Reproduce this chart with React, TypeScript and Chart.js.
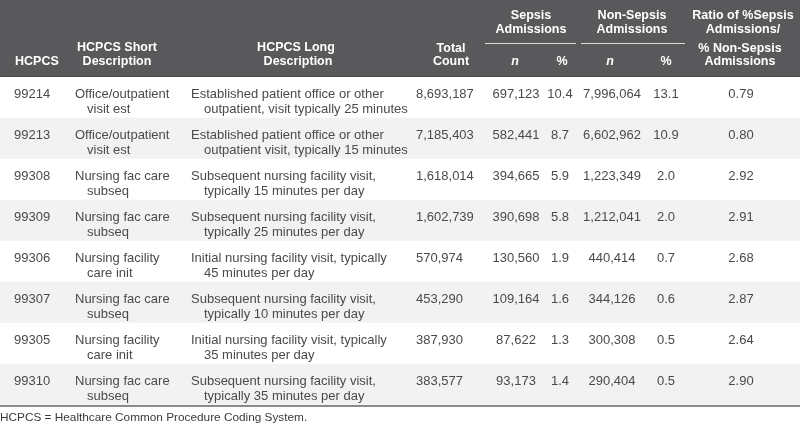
import React, { useEffect, useRef } from "react";
import { Chart, registerables } from "chart.js";

Chart.register(...registerables);

const hcpcsCodes = ["99214", "99213", "99308", "99309", "99306", "99307", "99305", "99310"];
const shortDescriptions: string[][] = [
  ["Office/outpatient", "visit est"],
  ["Office/outpatient", "visit est"],
  ["Nursing fac care", "subseq"],
  ["Nursing fac care", "subseq"],
  ["Nursing facility", "care init"],
  ["Nursing fac care", "subseq"],
  ["Nursing facility", "care init"],
  ["Nursing fac care", "subseq"],
];
const longDescriptions: string[][] = [
  ["Established patient office or other", "outpatient, visit typically 25 minutes"],
  ["Established patient office or other", "outpatient visit, typically 15 minutes"],
  ["Subsequent nursing facility visit,", "typically 15 minutes per day"],
  ["Subsequent nursing facility visit,", "typically 25 minutes per day"],
  ["Initial nursing facility visit, typically", "45 minutes per day"],
  ["Subsequent nursing facility visit,", "typically 10 minutes per day"],
  ["Initial nursing facility visit, typically", "35 minutes per day"],
  ["Subsequent nursing facility visit,", "typically 35 minutes per day"],
];
const totalCounts = [8693187, 7185403, 1618014, 1602739, 570974, 453290, 387930, 383577];
const sepsisN = [697123, 582441, 394665, 390698, 130560, 109164, 87622, 93173];
const sepsisPct = [10.4, 8.7, 5.9, 5.8, 1.9, 1.6, 1.3, 1.4];
const nonSepsisN = [7996064, 6602962, 1223349, 1212041, 440414, 344126, 300308, 290404];
const nonSepsisPct = [13.1, 10.9, 2.0, 2.0, 0.7, 0.6, 0.5, 0.5];
const ratios = [0.79, 0.8, 2.92, 2.91, 2.68, 2.87, 2.64, 2.9];
const footnote = "HCPCS = Healthcare Common Procedure Coding System.";

const FONT = '"Liberation Sans", Arial, Helvetica, sans-serif';
const fmt = (v: number) => v.toLocaleString("en-US");

export default function App() {
  const ref = useRef<HTMLCanvasElement | null>(null);

  useEffect(() => {
    document.body.style.margin = "0";
    const canvas = ref.current;
    if (!canvas) return;

    const tablePlugin = {
      id: "tablePlugin",
      afterDatasetsDraw(chart: any) {
        const ctx: CanvasRenderingContext2D = chart.ctx;
        const xs = chart.scales.x;
        const ys = chart.scales.y;
        const X = (v: number) => xs.getPixelForValue(v);
        const W = chart.width;
        ctx.save();

        // header background
        ctx.fillStyle = "#59595b";
        ctx.fillRect(0, 0, W, chart.chartArea.top);
        ctx.fillStyle = "#4a4a4c";
        ctx.fillRect(0, chart.chartArea.top - 1, W, 1);

        const hText = (t: string, x: number, y: number, align: CanvasTextAlign, italic = false) => {
          ctx.font = `${italic ? "italic " : ""}bold 12.5px ${FONT}`;
          ctx.fillStyle = "#ffffff";
          ctx.textAlign = align;
          ctx.textBaseline = "middle";
          ctx.fillText(t, x, y);
        };
        hText("HCPCS", X(15), 62, "left");
        hText("HCPCS Short", X(117), 48, "center");
        hText("Description", X(117), 62, "center");
        hText("HCPCS Long", X(296), 48, "center");
        hText("Description", X(298), 62, "center");
        hText("Total", X(451), 49, "center");
        hText("Count", X(451), 62, "center");
        hText("Sepsis", X(531), 16, "center");
        hText("Admissions", X(531), 30, "center");
        hText("Non-Sepsis", X(632), 16, "center");
        hText("Admissions", X(632), 30, "center");
        hText("n", X(515), 62, "center", true);
        hText("%", X(562), 62, "center");
        hText("n", X(610), 62, "center", true);
        hText("%", X(666), 62, "center");
        hText("Ratio of %Sepsis", X(743), 16, "center");
        hText("Admissions/", X(743), 30, "center");
        hText("% Non-Sepsis", X(740), 49, "center");
        hText("Admissions", X(740), 62, "center");

        ctx.strokeStyle = "#d8d8d8";
        ctx.lineWidth = 1;
        ctx.beginPath();
        ctx.moveTo(X(485), 43.5);
        ctx.lineTo(X(576), 43.5);
        ctx.moveTo(X(581), 43.5);
        ctx.lineTo(X(685), 43.5);
        ctx.stroke();

        // body cells
        ctx.fillStyle = "#4a4a4a";
        ctx.font = `13px ${FONT}`;
        ctx.textBaseline = "middle";
        hcpcsCodes.forEach((code, i) => {
          const cy = ys.getPixelForValue(i);
          const y1 = cy - 3;
          const y2 = cy + 12;
          ctx.textAlign = "left";
          ctx.fillText(code, X(14), y1);
          ctx.fillText(shortDescriptions[i][0], X(75), y1);
          ctx.fillText(shortDescriptions[i][1], X(87), y2);
          ctx.fillText(longDescriptions[i][0], X(191), y1);
          ctx.fillText(longDescriptions[i][1], X(204), y2);
          ctx.fillText(fmt(totalCounts[i]), X(416), y1);
          ctx.textAlign = "center";
          ctx.fillText(fmt(sepsisN[i]), X(516), y1);
          ctx.fillText(sepsisPct[i].toFixed(1), X(560), y1);
          ctx.fillText(fmt(nonSepsisN[i]), X(612), y1);
          ctx.fillText(nonSepsisPct[i].toFixed(1), X(666), y1);
          ctx.fillText(ratios[i].toFixed(2), X(741), y1);
        });

        // bottom rule
        const bottom = chart.chartArea.bottom;
        ctx.fillStyle = "#8a8a8a";
        ctx.fillRect(0, bottom, W, 2);

        // footnote
        ctx.fillStyle = "#3a3a3a";
        ctx.font = `11.8px ${FONT}`;
        ctx.textAlign = "left";
        ctx.textBaseline = "middle";
        ctx.fillText(footnote, 0, bottom + 13);
        ctx.restore();
      },
    };

    const chart = new Chart(canvas, {
      type: "bar",
      data: {
        labels: hcpcsCodes,
        datasets: [
          {
            data: hcpcsCodes.map(() => [0, 800]) as any,
            backgroundColor: hcpcsCodes.map((_, i) => (i % 2 === 1 ? "#f2f2f2" : "#ffffff")),
            borderWidth: 0,
            barPercentage: 1,
            categoryPercentage: 1,
          },
        ],
      },
      options: {
        indexAxis: "y",
        animation: false,
        responsive: false,
        devicePixelRatio: 1,
        layout: { padding: { top: 77, bottom: 20, left: 0, right: 0 } },
        scales: {
          x: { type: "linear", min: 0, max: 800, display: false },
          y: { type: "category", display: false, offset: true },
        },
        plugins: {
          legend: { display: false },
          tooltip: { enabled: false },
        },
      },
      plugins: [tablePlugin],
    });

    return () => chart.destroy();
  }, []);

  return (
    <div style={{ width: 800, height: 425 }}>
      <canvas ref={ref} width={800} height={425} style={{ display: "block" }} />
    </div>
  );
}
